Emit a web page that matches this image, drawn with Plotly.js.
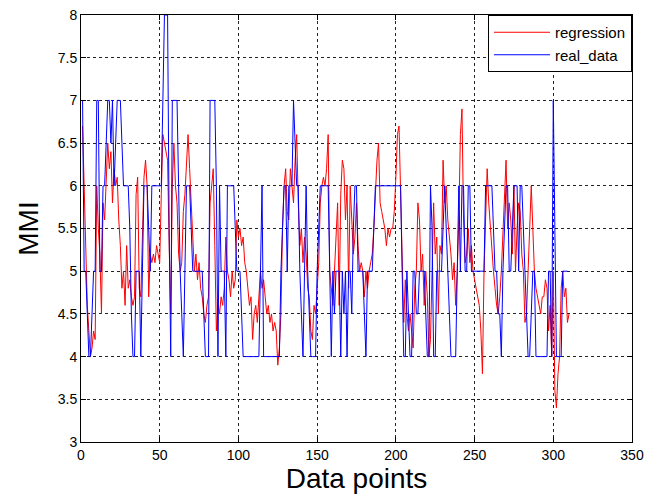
<!DOCTYPE html>
<html>
<head>
<meta charset="utf-8">
<script src="https://cdn.plot.ly/plotly-3.0.1.min.js"></script>
<style>
html,body{margin:0;padding:0;background:#fff;}
#chart{width:659px;height:502px;}
</style>
</head>
<body>
<div id="chart"></div>
<script>
// regression output (red), points 1..310
const regression = [
6.7,6.0,5.3,4.6,4.3,4.0,4.1,4.3,4.2,6.0,
5.5,5.2,4.5,5.8,5.6,6.1,6.5,6.2,6.4,5.8,
6.2,6.0,6.1,5.6,5.3,4.8,5.0,4.6,5.3,4.8,
4.9,4.7,4.6,4.7,5.9,6.1,4.8,4.7,5.3,6.1,
6.3,6.0,4.7,5.2,5.1,5.2,5.1,5.3,5.2,5.1,
5.9,6.6,6.5,6.4,6.3,5.3,4.5,6.0,6.5,6.0,
5.8,5.2,5.0,5.1,5.7,5.9,6.3,6.6,6.2,5.7,
5.4,5.0,5.2,4.9,5.1,4.8,4.7,4.5,4.4,4.6,
4.7,5.8,6.0,6.2,5.3,4.3,4.6,4.5,4.7,4.6,
4.8,5.4,5.0,4.9,4.7,5.0,4.8,4.9,5.6,5.4,
5.5,5.3,5.4,5.1,5.0,4.8,4.6,4.7,4.2,4.5,
4.6,4.4,4.7,5.0,4.8,4.9,4.7,4.5,4.6,4.4,
4.5,4.3,4.4,4.3,3.9,4.1,4.5,5.5,6.0,6.2,
5.7,5.6,6.2,6.0,5.8,6.3,6.6,5.8,5.3,5.5,
5.1,5.4,5.2,4.8,4.7,4.3,4.2,4.6,4.5,4.8,
5.1,5.8,6.0,6.1,6.0,6.2,6.6,5.0,4.8,4.6,
5.0,5.5,5.8,4.6,5.9,6.3,6.2,5.6,6.0,4.8,
6.0,5.6,5.2,5.4,5.8,5.3,5.0,5.1,5.0,4.7,
5.0,4.8,5.0,5.1,5.2,5.5,5.9,6.3,6.5,5.8,
5.7,5.6,5.5,5.3,5.5,5.4,5.5,5.5,5.7,6.1,
6.6,6.7,5.9,5.0,4.4,4.9,4.5,4.3,4.5,4.3,
4.1,4.8,5.0,5.8,5.6,5.0,5.2,4.6,5.0,4.7,
4.0,4.2,5.0,5.8,5.2,5.4,4.5,5.3,5.2,6.3,
5.8,6.0,5.6,5.4,5.2,4.9,5.1,4.6,5.0,5.6,
6.6,6.9,5.6,5.1,5.2,5.5,5.1,5.3,5.0,4.9,
4.8,4.7,4.6,4.3,3.8,5.0,5.7,6.2,5.8,5.5,
5.2,5.0,4.8,4.6,4.5,4.7,5.0,5.5,5.8,6.3,
5.5,5.8,5.6,5.2,6.0,5.0,5.5,5.8,5.7,5.2,
5.0,4.4,4.5,5.0,5.6,6.0,5.5,5.0,4.8,4.7,
4.6,4.5,4.7,4.7,4.9,4.8,4.3,4.6,4.0,5.0,
3.6,3.4,3.8,4.0,4.8,5.0,4.7,4.8,4.4,4.5
];
const realData = [
7,5,5,4.5,4,4,4.5,5,5,7,
7,5,5,6,6,6.5,7,7,6.5,7,
6,6.5,7,7,7,6.5,6,6,6,6,
5.5,4.5,4,4,5,5,5,4,5,6,
6,6,5.5,5,6,6,6,6,6,6,
6,7,8,8,8,5.5,4,7,7,7,
7,6,5,4.5,4,5,6,6,6,5.5,
5,5,5,5,5,5,5,4.5,4,4,
4,7,7,7,7,6,4,6,5,5,
5,4,6,6,6,6,6,5.5,5,5,
5,4.5,4,4,4,4,4,4,4,4,
4,4,4,5,6,4,4,4,4,4,
4,4,4,4,4,4,5,5.5,6,6,
5,6,6,6,7,6.5,6,6,5,4.5,
4,5,6,5,4.5,4,4,4,4,5,
5.5,6,6,6,6,6,6,5,4,5,
4.5,5,5,5,4,5,4.5,5,4,5,
5,4.5,5.5,6,6,5,5,5,5,4.5,
4,5,5,5,5,5.5,6,6,6,6,
6,6,6,6,6,6,6,6,6,6,
6,6,6,5,4,4,5,4.5,4,4,
5,5,4.5,4.5,5,5,5,5,4.5,4,
4,6,5.5,4,4,5,5,5,5,5.5,
6,5.5,5,4.5,4,4,4,4,5,6,
5,6,6,5,5,6,6,5,5,5,
5,5,5,5,5,5,6,6,6,6,
6,5.5,5,5,4.5,4.5,4,5,5.5,6,
6,5,5,5.5,6,6,6,5,6,6,
5.5,5,4.5,4,4,4.5,5,5,4,4,
4,4,4,4,4,4,5,5,4,7,
5.5,4,4,4,4,5,5,5,5
];
const seriesNames = ["regression", "real_data"];
const xTicks = [0, 50, 100, 150, 200, 250, 300, 350];
const yTicks = [3, 3.5, 4, 4.5, 5, 5.5, 6, 6.5, 7, 7.5, 8];

const idx = arr => arr.map((_, i) => i + 1);
const FONT = '"Liberation Sans", Arial, Helvetica, sans-serif';

const traces = [
  {x: idx(regression), y: regression, name: seriesNames[0], type: 'scatter', mode: 'lines',
   line: {color: '#ff0000', width: 1}},
  {x: idx(realData), y: realData, name: seriesNames[1], type: 'scatter', mode: 'lines',
   line: {color: '#0000ff', width: 1}}
];

const axisCommon = {
  showline: true, linecolor: '#000', linewidth: 1, mirror: 'ticks',
  ticks: 'inside', ticklen: 5, tickcolor: '#000', tickwidth: 1,
  showgrid: true, gridcolor: '#222', gridwidth: 1, griddash: '3px,3px',
  zeroline: false, tickfont: {family: FONT, size: 14, color: '#000'},
  tickmode: 'array', automargin: false
};

const layout = {
  width: 659, height: 502,
  margin: {l: 81, r: 27, t: 15, b: 60},
  paper_bgcolor: '#fff', plot_bgcolor: '#fff',
  font: {family: FONT, color: '#000'},
  showlegend: true,
  legend: {x: 1, y: 1, xanchor: 'right', yanchor: 'top',
           bgcolor: '#fff', bordercolor: '#000', borderwidth: 1,
           itemwidth: 56, tracegroupgap: 0,
           font: {family: FONT, size: 15, color: '#000'}},
  xaxis: Object.assign({}, axisCommon, {
    range: [0, 350], tickvals: xTicks, ticktext: xTicks.map(String),
    title: {text: 'Data points', font: {family: FONT, size: 28, color: '#000'}, standoff: 6}
  }),
  yaxis: Object.assign({}, axisCommon, {
    range: [3, 8], tickvals: yTicks, ticktext: yTicks.map(String),
    title: {text: 'MMI', font: {family: FONT, size: 28, color: '#000'}, standoff: 10}
  })
};

Plotly.newPlot('chart', traces, layout, {displayModeBar: false, staticPlot: true});
</script>
</body>
</html>
